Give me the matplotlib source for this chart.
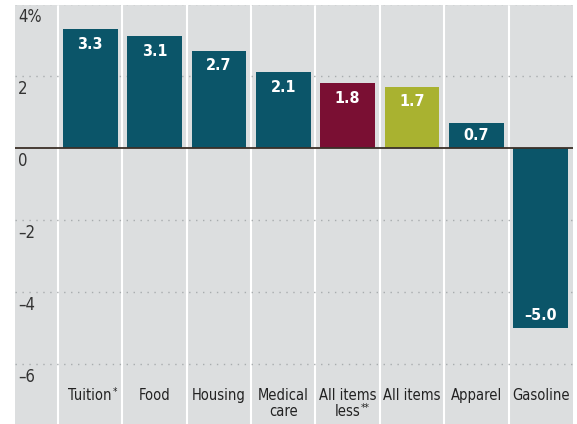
import matplotlib
matplotlib.use("Agg")
import matplotlib.pyplot as plt

categories = ["Tuition", "Food", "Housing", "Medical\ncare",
              "All items\nless", "All items", "Apparel", "Gasoline"]
footnotes = ["*", "", "", "", "**", "", "", ""]
values = [3.3, 3.1, 2.7, 2.1, 1.8, 1.7, 0.7, -5.0]
labels = ["3.3", "3.1", "2.7", "2.1", "1.8", "1.7", "0.7", "\u20135.0"]
colors = ["#0b5569", "#0b5569", "#0b5569", "#0b5569", "#7a0f33", "#a9b230",
          "#0b5569", "#0b5569"]
yticks = [4, 2, 0, -2, -4, -6]
ytick_labels = ["4%", "2", "0", "\u20132", "\u20134", "\u20136"]

plt.rcParams['font.family'] = ['DejaVu Sans']
plt.rcParams['font.stretch'] = 'condensed'

fig = plt.figure(figsize=(5.77, 4.24), dpi=100)
ax = fig.add_axes([15 / 577, 0, 558 / 577, 419 / 424])
ax.set_facecolor("#dcdedf")

x = list(range(len(categories)))
ax.set_xlim(-0.5 - 43 / 64.4, 7.5)
ax.set_ylim(-7.67, 3.97)

# white column separators
for xs in [i - 0.5 for i in range(len(categories))]:
    ax.axvline(xs, color="white", lw=1.5, zorder=1)

# dotted gridlines
for yt in yticks:
    if yt != 0:
        ax.axhline(yt, color="#a8acae", lw=1, ls=(0, (1, 4)), zorder=1)

ax.bar(x, values, width=0.85, color=colors, zorder=2)
ax.axhline(0, color="#3b3028", lw=1.3, zorder=3)

for xi, v, lab in zip(x, values, labels):
    if v >= 1:
        y = v - 0.42
    elif v >= 0:
        y = v / 2
    else:
        y = v + 0.35
    ax.text(xi, y, lab, ha="center", va="center", color="white",
            fontsize=11.5, fontweight="bold", zorder=4)

for yt, lab in zip(yticks, ytick_labels):
    ax.text(-0.5 - 43 / 64.4 + 0.05, yt - 0.12, lab, ha="left", va="top",
            fontsize=12, color="#333333")

# category labels, one text per line so footnote marks sit on the last line
line_texts = []
for xi, cat, fn in zip(x, categories, footnotes):
    for k, line in enumerate(cat.split("\n")):
        t = ax.text(xi, -6.68 - k * 0.44, line, ha="center", va="top",
                    fontsize=10.5, color="#222222")
        last = t
    line_texts.append((last, fn))

fig.canvas.draw()
renderer = fig.canvas.get_renderer()
for t, fn in line_texts:
    if fn:
        bb = t.get_window_extent(renderer)
        fig.text((bb.x1 + 0.5) / fig.bbox.width, (bb.y1 + 1) / fig.bbox.height,
                 fn, ha="left", va="top", fontsize=7, color="#222222")

ax.set_xticks([])
ax.set_yticks([])
for s in ax.spines.values():
    s.set_visible(False)

fig.savefig("out.png", dpi=100)
